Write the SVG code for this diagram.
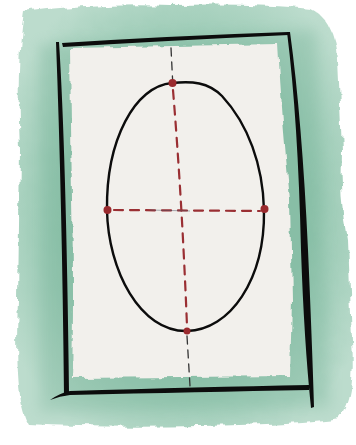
<svg xmlns="http://www.w3.org/2000/svg" width="356" height="445" viewBox="0 0 356 445">
  <defs>
    <filter id="rough" x="-10%" y="-10%" width="120%" height="120%">
      <feTurbulence type="fractalNoise" baseFrequency="0.06" numOctaves="3" seed="4"/>
      <feDisplacementMap in="SourceGraphic" scale="9"/>
    </filter>
    <filter id="rough2" x="-10%" y="-10%" width="120%" height="120%">
      <feTurbulence type="fractalNoise" baseFrequency="0.08" numOctaves="2" seed="9"/>
      <feDisplacementMap in="SourceGraphic" scale="6"/>
    </filter>
    <filter id="blur" x="-10%" y="-10%" width="120%" height="120%">
      <feGaussianBlur stdDeviation="7"/>
    </filter>
    <radialGradient id="wash" cx="0.5" cy="0.5" r="0.6">
      <stop offset="0.6" stop-color="#93c6af"/>
      <stop offset="1" stop-color="#bcdccd"/>
    </radialGradient>
  </defs>
  <style>
    .ink { fill: #0c0c0c; }
    .dash-red { fill: none; stroke: #9a2f33; stroke-width: 2.2; stroke-dasharray: 9 7; stroke-linecap: round; }
    .dash-grey { fill: none; stroke: #333; stroke-width: 1.3; stroke-dasharray: 8 6; stroke-linecap: round; }
    .dot { fill: #9a2a2e; }
    .ellipse { fill: none; stroke: #0c0c0c; stroke-width: 2.4; }
  </style>
  <rect width="356" height="445" fill="#ffffff"/>
  <!-- green watercolor wash -->
  <g id="wash">
    <path d="M 24 12 Q 100 2 170 5 Q 260 3 310 9 Q 336 20 338 60 L 342 150 Q 340 200 348 240 L 352 340 Q 356 400 340 418 Q 300 424 200 426 Q 100 428 28 424 Q 14 400 18 300 L 20 150 Q 16 60 24 12 Z" fill="url(#wash)" filter="url(#rough)"/>
    <path d="M 40 44 L 316 30 L 330 408 L 40 412 Z" fill="#6fae93" opacity="0.3" filter="url(#blur)"/>
  </g>
  <!-- paper -->
  <g id="paper">
    <path d="M 70 48 L 278 44 Q 282 120 290 200 L 292 300 L 290 376 L 72 378 Q 74 300 72 200 Z" fill="#f2f0ec" filter="url(#rough2)"/>
  </g>
  <!-- frame -->
  <g id="frame">
    <path class="ink" d="M 62 43 Q 170 36 288 32 L 289 35 Q 180 40 63 47 Z"/>
    <path class="ink" d="M 56 42 L 59 42 Q 66 150 69 393 L 64 396 Q 62 200 56 42 Z"/>
    <path class="ink" d="M 287 32 L 290 32 Q 302 120 308 250 Q 312 340 314 407 L 311 408 Q 304 340 301 250 Q 298 120 287 32 Z"/>
    <path class="ink" d="M 50 400 Q 60 393 70 391 Q 200 387 309 385 L 309 390 Q 200 392 70 395 Q 60 396 50 400 Z"/>
  </g>
  <!-- ellipse -->
  <g id="ellipse">
    <path class="ellipse" d="M 172 83 C 192 81, 208 82, 222 96 C 248 124, 263 165, 264 210 C 265 280, 230 330, 187 331 C 140 332, 108 270, 107 210 C 106 140, 135 86, 172 83 Z"/>
  </g>
  <!-- axes -->
  <g id="connectors">
    <path class="dash-grey" d="M 171 48 L 172.6 80"/>
    <path class="dash-red" d="M 173 90 Q 182 200 187 326"/>
    <path class="dash-grey" d="M 187 336 L 190 386"/>
    <path class="dash-red" d="M 114 210 L 260 211"/>
    <path d="M 150 210 L 190 211" stroke="#556" stroke-width="1" opacity="0.5" fill="none"/>
  </g>
  <g id="points">
    <circle class="dot" cx="172.5" cy="83" r="4"/>
    <circle class="dot" cx="187" cy="331" r="3.5"/>
    <circle class="dot" cx="107.5" cy="210" r="4"/>
    <circle class="dot" cx="264.5" cy="209" r="4"/>
  </g>
</svg>
